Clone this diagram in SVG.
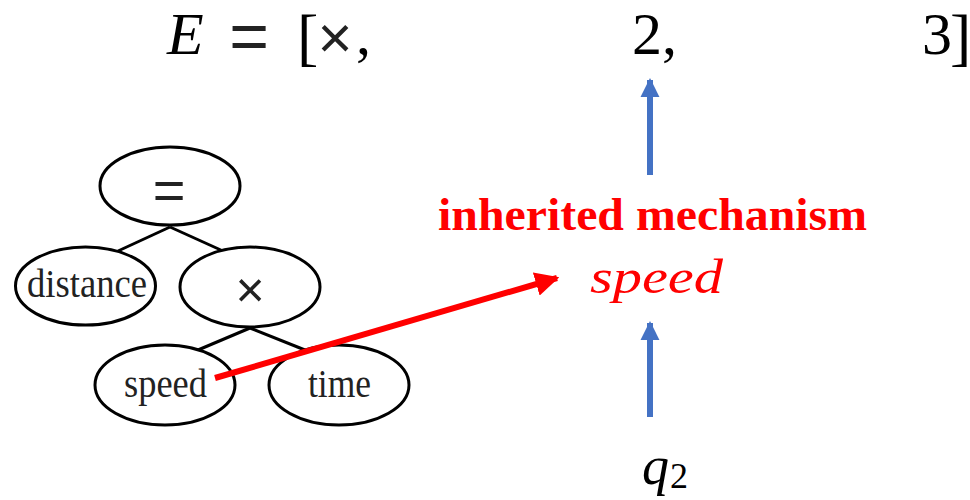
<svg xmlns="http://www.w3.org/2000/svg" width="970" height="500" viewBox="0 0 970 500">
  <style>
    .node ellipse { fill: #fff; stroke: #000; stroke-width: 3; }
    .tlabel { font-family: "Liberation Serif", "Times New Roman", serif; font-size: 41px; fill: #222; text-anchor: middle; }
    .sym { font-family: "Liberation Sans", Arial, sans-serif; fill: #222; text-anchor: middle; }
    .edge { stroke: #000; stroke-width: 3; }
    .math { font-family: "Liberation Serif", "Times New Roman", serif; font-size: 60px; fill: #000; }
    .blue { stroke: #4472C4; stroke-width: 6; fill: none; }
    .red { fill: #ff0000; }
  </style>
  <defs>
    <marker id="redhead" viewBox="0 0 10 10" refX="9" refY="5" markerWidth="4" markerHeight="4" orient="auto" markerUnits="strokeWidth">
      <path d="M0,0 L10,5 L0,10 Z" fill="#ff0000"/>
    </marker>
    <marker id="bluehead" viewBox="0 0 10 10" refX="9" refY="5" markerWidth="3.2" markerHeight="3.2" orient="auto" markerUnits="strokeWidth">
      <path d="M0,0 L10,5 L0,10 Z" fill="#4472C4"/>
    </marker>
  </defs>

  <!-- top expression -->
  <g id="expr">
    <text class="math" x="167" y="54" font-style="italic">E</text>
    <text class="sym" x="249" y="60" style="font-size:68px" fill="#000">=</text>
    <text class="math" x="297" y="58" style="font-size:64px">[</text>
    <text class="sym" x="335" y="58" style="font-size:60px" fill="#000">×</text>
    <text class="math" x="356" y="54">,</text>
    <text class="math" x="632" y="54">2,</text>
    <text class="math" x="922" y="54">3</text>
    <text class="math" x="950" y="58" style="font-size:64px">]</text>
  </g>

  <!-- tree edges -->
  <g id="tree-edges">
    <line class="edge" x1="170" y1="227" x2="118" y2="251"/>
    <line class="edge" x1="170" y1="227" x2="223" y2="251"/>
    <line class="edge" x1="250" y1="328" x2="198" y2="350"/>
    <line class="edge" x1="250" y1="328" x2="305" y2="350"/>
  </g>

  <g id="node-eq" class="node">
    <ellipse cx="170" cy="186" rx="70" ry="39"/>
    <text class="sym" x="169" y="209" style="font-size:56px">=</text>
  </g>
  <g id="node-distance" class="node">
    <ellipse cx="85.5" cy="286" rx="70" ry="39"/>
    <text class="tlabel" x="87" y="297" textLength="120" lengthAdjust="spacingAndGlyphs">distance</text>
  </g>
  <g id="node-times" class="node">
    <ellipse cx="250" cy="287" rx="70" ry="40"/>
    <text class="sym" x="250" y="307" style="font-size:50px">×</text>
  </g>
  <g id="node-speed" class="node">
    <ellipse cx="165" cy="385" rx="70" ry="40"/>
    <text class="tlabel" x="165.5" y="397" textLength="83" lengthAdjust="spacingAndGlyphs">speed</text>
  </g>
  <g id="node-time" class="node">
    <ellipse cx="339" cy="385" rx="70" ry="40"/>
    <text class="tlabel" x="339.5" y="397" textLength="63" lengthAdjust="spacingAndGlyphs">time</text>
  </g>

  <!-- right side labels -->
  <g id="node-mechanism">
    <text class="red" x="438" y="230" font-family="Liberation Serif, Times New Roman, serif" font-weight="bold" font-size="47" textLength="429" lengthAdjust="spacingAndGlyphs">inherited mechanism</text>
  </g>
  <g id="node-speed2">
    <text class="red" x="590" y="293" font-family="Liberation Serif, Times New Roman, serif" font-style="italic" font-size="48" textLength="133" lengthAdjust="spacingAndGlyphs">speed</text>
  </g>
  <g id="node-q2">
    <text x="642" y="484" font-family="Liberation Serif, Times New Roman, serif" font-size="54" fill="#000"><tspan font-style="italic">q</tspan><tspan font-size="36" dx="1" dy="4">2</tspan></text>
  </g>

  <!-- connectors -->
  <g id="connectors">
    <line x1="215" y1="378" x2="557" y2="278" stroke="#ff0000" stroke-width="6" marker-end="url(#redhead)"/>
    <line class="blue" x1="650" y1="175" x2="650" y2="80" marker-end="url(#bluehead)"/>
    <line class="blue" x1="650" y1="417" x2="650" y2="323" marker-end="url(#bluehead)"/>
  </g>
</svg>
